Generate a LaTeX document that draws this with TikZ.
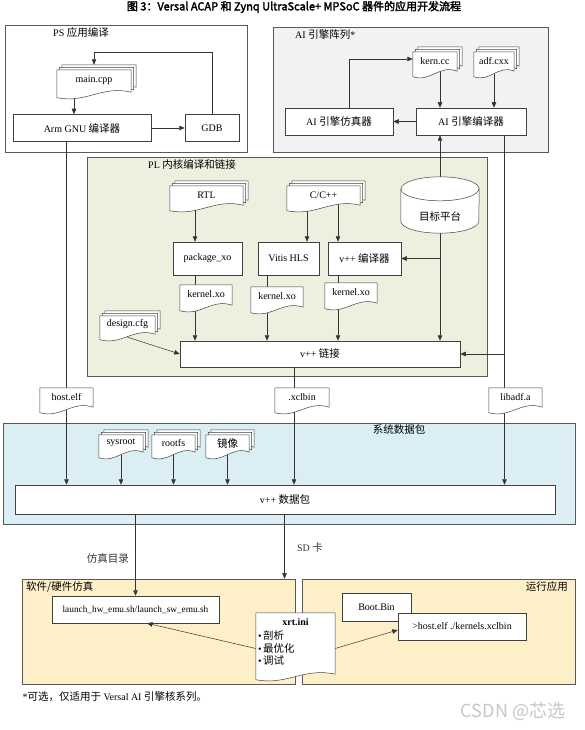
\documentclass[tikz,border=0pt]{standalone}
\usepackage{fontspec}
\setmainfont{Liberation Serif}
\newfontfamily\zhfont[Scale=1.05]{Noto Sans CJK SC}
\newfontfamily\titlefont[FakeBold=2.5]{Noto Sans CJK SC}
\newfontfamily\markfont{Noto Sans CJK SC}
\newcommand\zh[1]{{\zhfont #1}}
\usetikzlibrary{arrows.meta,calc}

\definecolor{aigray}{HTML}{F2F2F2}
\definecolor{plgreen}{HTML}{EBF1DE}
\definecolor{sysblue}{HTML}{DAEEF3}
\definecolor{emuyellow}{HTML}{FDF0C8}

% one sheet with a wavy bottom: node, width, offset
\newcommand\docpath[3]{%
  \filldraw[docline] ([xshift=#3,yshift=#3]#1.north west) -- ([xshift=#3,yshift=#3]#1.north east)
    -- ([xshift=#3,yshift=#3+3pt]#1.south east)
    .. controls +({-0.4*#2pt},7pt) and +({0.4*#2pt},-6pt) .. ([xshift=#3,yshift=#3-2.5pt]#1.south west) -- cycle;}
% stack of sheets plus its text: node, width, copies, text
\newcommand\docshape[4]{%
  \foreach \k in {#3,...,0} {\docpath{#1}{#2}{2.5pt*\k}}
  \node[txt] (#1-t) at ([yshift=2pt]#1) {#4};}

\begin{document}
\begin{tikzpicture}[x=1pt, y=-1pt,
  font=\fontsize{10}{12}\selectfont,
  wire/.style={black!80, line width=0.5pt},
  arr/.style={wire, -{Triangle[length=5.5pt,width=4.5pt]}},
  grp/.style={draw=black!65, line width=0.6pt, inner sep=0pt},
  proc/.style={draw=black!75, fill=white, line width=0.5pt, inner sep=0pt},
  spot/.style={inner sep=0pt},
  docline/.style={draw=black!75, fill=white, line width=0.5pt},
  txt/.style={inner sep=1pt}]

\useasboundingbox (0,0) rectangle (585,730);

\node[font=\titlefont\fontsize{11}{13}\selectfont] (title) at (294,7)
  {图 3：Versal ACAP 和 Zynq UltraScale+ MPSoC 器件的应用开发流程};

% groups
\node[grp, fill=white, minimum width=242pt, minimum height=127pt] (psg) at (126,88.5) {};
\node[grp, fill=aigray, minimum width=275pt, minimum height=125pt] (aig) at (410.5,89.5) {};
\node[grp, fill=plgreen, minimum width=400pt, minimum height=219pt] (plg) at (287,266.5) {};
\node[grp, fill=sysblue, minimum width=572pt, minimum height=101pt] (sysg) at (289,473.5) {};
\node[grp, fill=emuyellow, minimum width=273pt, minimum height=105pt] (simg) at (158.5,631.5) {};
\node[grp, fill=emuyellow, minimum width=273pt, minimum height=105pt] (rung) at (438.5,631.5) {};

\node[anchor=west] (psl) at ([xshift=45pt,yshift=-8pt]psg.north west) {PS \zh{应用编译}};
\node[anchor=west] (ail) at ([xshift=19pt,yshift=-8pt]aig.north west) {AI \zh{引擎阵列}*};
\node[anchor=west] (pll) at ([xshift=58pt,yshift=-8pt]plg.north west) {PL \zh{内核编译和链接}};
\node (sysl) at ([xshift=110pt,yshift=-7pt]sysg.north) {\zh{系统数据包}};
\node[anchor=west] (siml) at ([xshift=1pt,yshift=-8pt]simg.north west) {\zh{软件/硬件仿真}};
\node[anchor=east] (runl) at ([xshift=-4pt,yshift=-8pt]rung.north east) {\zh{运行应用}};

% process boxes
\node[proc, minimum width=138pt, minimum height=27pt] (arm) at (82,128) {Arm GNU \zh{编译器}};
\node[proc, minimum width=54pt, minimum height=27pt] (gdb) at (212,128) {GDB};
\node[proc, minimum width=108pt, minimum height=27pt] (aisim) at (339,121.5) {AI \zh{引擎仿真器}};
\node[proc, minimum width=110pt, minimum height=27pt] (aicomp) at (471,121.5) {AI \zh{引擎编译器}};
\node[proc, minimum width=69pt, minimum height=33pt] (pkg) at (207.5,258.5) {package\_xo};
\node[proc, minimum width=61pt, minimum height=33pt] (hls) at (288.5,258.5) {Vitis HLS};
\node[proc, minimum width=73pt, minimum height=33pt] (vcomp) at (364.5,258.5) {v++ \zh{编译器}};
\node[proc, minimum width=280pt, minimum height=26pt] (link) at (320,354) {v++ \zh{链接}};
\node[proc, minimum width=540pt, minimum height=29pt] (pack) at (285,499.5) {v++ \zh{数据包}};
\node[proc, minimum width=167pt, minimum height=27pt, font=\fontsize{9.3}{11}\selectfont] (launch) at (135.5,609.5) {launch\_hw\_emu.sh/launch\_sw\_emu.sh};
\node[proc, minimum width=69pt, minimum height=28pt] (boot) at (376.5,607) {Boot.Bin};
\node[proc, minimum width=128pt, minimum height=27pt] (host) at (462,626.5) {>host.elf ./kernels.xclbin};

% places of the sheets and the platform
\node[spot, minimum width=74pt, minimum height=25pt] (maincpp) at (94,82.5) {};
\node[spot, minimum width=44pt, minimum height=22pt] (kerncc) at (435,63) {};
\node[spot, minimum width=40pt, minimum height=22pt] (adfcxx) at (494,63) {};
\node[spot, minimum width=73pt, minimum height=22pt] (rtl) at (206.5,197) {};
\node[spot, minimum width=73pt, minimum height=22pt] (ccpp) at (323.5,197) {};
\node[spot, minimum width=52pt, minimum height=23pt] (kxo1) at (206,296.5) {};
\node[spot, minimum width=52pt, minimum height=23pt] (kxo2) at (277,298.5) {};
\node[spot, minimum width=52pt, minimum height=23pt] (kxo3) at (351,294.5) {};
\node[spot, minimum width=55pt, minimum height=21pt] (cfg) at (127.5,326.5) {};
\node[spot, minimum width=53pt, minimum height=22pt] (hostelf) at (66.5,399) {};
\node[spot, minimum width=54pt, minimum height=22pt] (xclbin) at (302,399) {};
\node[spot, minimum width=53pt, minimum height=22pt] (libadf) at (515.5,399) {};
\node[spot, minimum width=44pt, minimum height=20pt] (sysroot) at (121,445) {};
\node[spot, minimum width=43pt, minimum height=20pt] (rootfs) at (173.5,445) {};
\node[spot, minimum width=43pt, minimum height=20pt] (jx) at (227.5,445) {};
\node[spot, minimum width=79pt, minimum height=64pt] (xrtini) at (295.5,645) {};
\node[spot, minimum width=78pt, minimum height=56pt] (plat) at (440,205) {};

% lanes
\coordinate (lA) at (74,0);
\coordinate (l1) at (195,0);
\coordinate (l2) at (267,0);
\coordinate (l2c) at (307,0);
\coordinate (l3) at (338,0);
\coordinate (lX) at (294,0);
\coordinate (lL) at (504.5,0);
\coordinate (lS) at (284.5,0);

% PS
\draw[arr] (maincpp -| lA) -- (arm.north -| lA);
\draw[arr] (arm.east) -- (gdb.west);
\draw[arr] (gdb.north) |- ([yshift=18pt]maincpp.north) -- ([yshift=5pt]maincpp.north);
\draw[wire] (arm.south -| hostelf) -- (hostelf);
\draw[arr] (hostelf) -- (hostelf |- pack.north);

% AI engine
\draw[arr] (aicomp.west) -- (aisim.east);
\draw[arr] ([xshift=10pt]aisim.north) |- ([yshift=4pt]kerncc.west);
\draw[arr] (kerncc -| plat) -- (aicomp.north -| plat);
\draw[arr] (adfcxx) -- (adfcxx |- aicomp.north);
\draw[arr] (plat.north) -- (plat.north |- aicomp.south);
\draw[wire] (aicomp.south -| lL) -- (libadf -| lL);
\draw[arr] (libadf -| lL) -- (pack.north -| lL);
\draw[arr] (link.east -| lL) -- (link.east);

% PL
\foreach \src/\blk/\xo/\lin/\lout in {rtl/pkg/kxo1/l1/l1, ccpp/hls/kxo2/l2c/l2, ccpp/vcomp/kxo3/l3/l3} {
  \draw[arr] (\src -| \lin) -- (\blk.north -| \lin);
  \draw[wire] (\blk.south -| \lout) -- (\xo -| \lout);
  \draw[arr] (\xo -| \lout) -- (link.north -| \lout);
}
\draw[arr] (plat.south) -- (plat.south |- link.north);
\draw[arr] (plat |- vcomp) -- (vcomp.east);
\draw[arr] (cfg.south) -- (link.west);
\draw[wire] (link.south -| lX) -- (xclbin -| lX);
\draw[arr] (xclbin -| lX) -- (pack.north -| lX);

% system package
\foreach \d in {sysroot,rootfs,jx}
  \draw[arr] (\d) -- (\d |- pack.north);

% emulation and run
\draw[arr] (pack.south -| launch) -- (launch.north)
  node[pos=0.54, left, xshift=-3pt] (emudir) {\zh{仿真目录}};
\draw[arr] (pack.south -| lS) -- (simg.north -| lS)
  node[pos=0.52, right, xshift=9pt] (sdcard) {SD \zh{卡}};
\draw[arr] ([yshift=-3.5pt]xrtini.west) -- ([xshift=11.5pt]launch.south);
\draw[arr] ([yshift=-3.5pt]xrtini.east) -- ([yshift=-3.5pt]host.west);

% sheets
\docshape{maincpp}{74}{2}{main.cpp}
\docshape{kerncc}{44}{2}{kern.cc}
\docshape{adfcxx}{40}{2}{adf.cxx}
\docshape{rtl}{73}{2}{RTL}
\docshape{ccpp}{73}{2}{C/C++}
\docshape{kxo1}{52}{0}{kernel.xo}
\docshape{kxo2}{52}{0}{kernel.xo}
\docshape{kxo3}{52}{0}{kernel.xo}
\docshape{cfg}{55}{2}{design.cfg}
\docshape{hostelf}{53}{0}{host.elf}
\docshape{xclbin}{54}{0}{.xclbin}
\docshape{libadf}{53}{0}{libadf.a}
\docshape{sysroot}{44}{2}{sysroot}
\docshape{rootfs}{43}{2}{rootfs}
\docshape{jx}{43}{2}{\zh{镜像}}
\docshape{xrtini}{79}{0}{}
\node[font=\bfseries] (xrtt) at ([yshift=-9pt]xrtini.north) {xrt.ini};
\foreach \w [count=\k] in {剖析,最优化,调试}
  \node[anchor=west, inner sep=0pt] (xrt\k) at ([xshift=2pt,yshift={-10pt-12.7pt*\k}]xrtini.north west) {\textbullet\,\zh{\w}};

% platform
\filldraw[docline] ([yshift=-12pt]plat.north west) -- ([yshift=12pt]plat.south west)
  arc[start angle=180, end angle=360, x radius=39pt, y radius=12pt]
  -- ([yshift=-12pt]plat.north east)
  arc[start angle=0, end angle=180, x radius=39pt, y radius=12pt] -- cycle;
\draw[docline, fill=none] ([yshift=-12pt]plat.north west)
  arc[start angle=180, end angle=360, x radius=39pt, y radius=12pt];
\node (plat-t) at ([yshift=-11pt]plat) {\zh{目标平台}};

\node[anchor=west] (note) at (19,697) {*\zh{可选，仅适用于} Versal AI \zh{引擎核系列。}};
\node[font=\markfont\fontsize{18}{20}\selectfont, text=gray!45] (mark) at (513,711) {CSDN @芯选};

\end{tikzpicture}
\end{document}
